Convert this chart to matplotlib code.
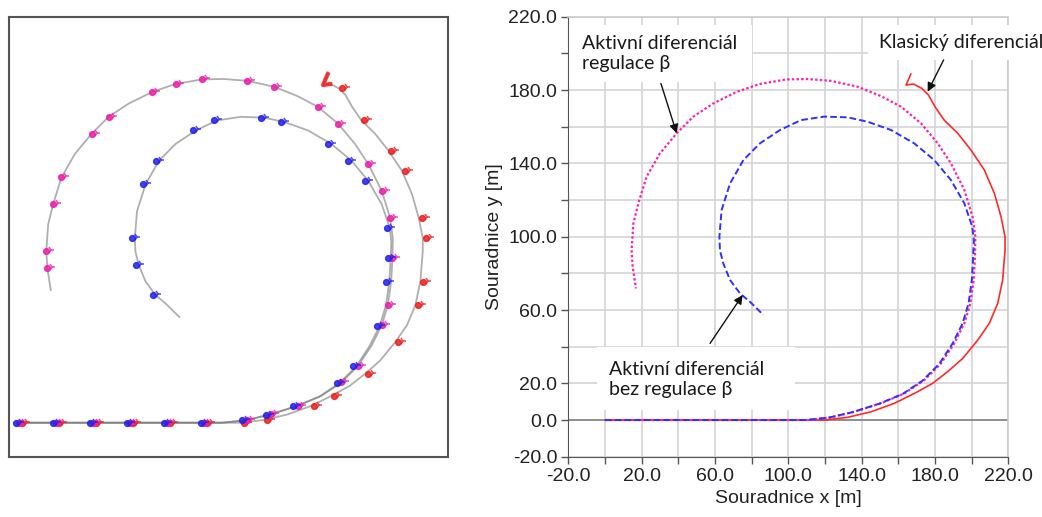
import matplotlib.pyplot as plt
from matplotlib.patches import Rectangle
from matplotlib.transforms import offset_copy

# trajectories [m]
# active differential with beta control (magenta, dotted)
mag_x = [0, 20, 40, 60, 80, 100, 110.5, 123.3, 136, 150.5, 163.3, 174.2, 183.3, 190.5, 196, 199.3,
         201.1, 201.8, 202, 200.5, 196, 188.7, 181.5, 172.4, 161.5, 150.5, 137.8, 123.3, 110.5, 99,
         84.5, 71.8, 59.1, 48.2, 39.1, 30, 22.7, 18.2, 15.5, 14.5, 15.1, 16.9]
mag_y = [0, 0, 0, 0, 0, 0, 0, 1.5, 4.5, 9.1, 14.5, 21.8, 30.9, 41.8, 52.7, 63.6,
         76.4, 89.1, 100, 110.9, 125.5, 140, 150.9, 161.8, 170.9, 176.7, 181.8, 185, 186, 185.8,
         183.3, 179, 172.7, 165.5, 156.4, 145.5, 132.7, 118.2, 107.3, 92.7, 83.6, 71.8]

# active differential without beta control (blue, dashed)
blue_x = [0, 20, 40, 60, 80, 100, 109, 122, 135, 149.5, 162.3, 173.2, 182.3, 189.5, 195, 198.3,
          200.1, 200.8, 201.2, 200.3, 196, 188.7, 179.6, 168.7, 156, 143.3, 132.4, 119.6, 106.9,
          95.5, 84.5, 75.5, 68.2, 63.6, 62.4, 62.7, 64.5, 68.2, 73.6, 79.1, 86.4]
blue_y = [0, 0, 0, 0, 0, 0, 0, 1.3, 4.3, 8.9, 14.2, 21.5, 30.6, 41.6, 52.6, 63.6,
          76.4, 89.1, 98, 105.5, 118.2, 130.9, 141.8, 150.9, 158.2, 162.7, 165.1, 165.5, 163.6,
          158.2, 150.9, 141.8, 129, 114.5, 100, 92.7, 85.5, 76.4, 69.1, 64.5, 57.3]

# classic differential (red, solid)
red_x = [0, 20, 40, 60, 80, 100, 119.6, 132.4, 145.1, 157.8, 168.7, 178.7, 186.9, 195.1, 203.3,
         209.6, 214.2, 216.9, 218.2, 218.2, 216, 212.4, 206.9, 199.6, 192.4, 185, 180, 176.4,
         172.8, 168.2, 164.2, 166.8]
red_y = [0, 0, 0, 0, 0, 0, 0, 1.5, 4.5, 9.1, 14.5, 20, 26.4, 33.6, 43.6,
         52.7, 63.6, 76.4, 92.7, 100, 110.9, 123.6, 136.4, 147.3, 156.4, 163.6, 170.9, 177.3,
         180.9, 183.3, 182.7, 188.7]

ticks = list(range(-20, 221, 20))
x_labels = ['-20.0', '', '20.0', '', '60.0', '', '100.0', '', '140.0', '', '180.0', '', '220.0']
y_labels = ['-20.0', '0.0', '20.0', '', '60.0', '', '100.0', '', '140.0', '', '180.0', '', '220.0']

C_MAG = '#ff22b0'
C_BLUE = '#3030ff'
C_RED = '#ff2a2a'

plt.rcParams['font.family'] = ['Liberation Sans', 'DejaVu Sans']

fig = plt.figure(figsize=(10.42, 5.17), dpi=100)

# ---- left panel: simulation view with vehicle markers
axL = fig.add_axes([0.0086, 0.1155, 0.4216, 0.8522])
paths = [(red_x, red_y, '#ee1c1c', 3), (mag_x, mag_y, '#ec1ea8', 0), (blue_x, blue_y, '#2020ee', -3)]
for xs, ys, c, dx in paths:
    axL.plot(xs, ys, color='#7a7a7a', lw=1.3, alpha=0.6, zorder=2)
for xs, ys, c, dx in paths:
    tr = offset_copy(axL.transData, fig=fig, x=dx, y=0, units='dots')
    axL.plot(xs, ys, ls='none', marker='o', ms=4.2, color=c, alpha=0.85,
             markevery=0.058, transform=tr, zorder=3)
    tr2 = offset_copy(axL.transData, fig=fig, x=dx + 5, y=1, units='dots')
    axL.plot(xs, ys, ls='none', marker='4', ms=5, mew=1.1, color=c, alpha=0.8,
             markevery=0.058, transform=tr2, zorder=3)
axL.plot(red_x[-3:], red_y[-3:], color='#ee1c1c', lw=3, alpha=0.85, zorder=3)
axL.set_xlim(-5.7, 232)
axL.set_ylim(-18.7, 219.7)
axL.set_xticks([])
axL.set_yticks([])
for s in axL.spines.values():
    s.set_color('#555555')
    s.set_linewidth(1.5)

# ---- right panel: trajectory chart
ax = fig.add_axes([0.5454, 0.1166, 0.4223, 0.8511])
ax.plot(red_x, red_y, color=C_RED, lw=1.2, zorder=3)
ax.plot(mag_x, mag_y, color=C_MAG, lw=1.6, ls=(0, (1.1, 1.0)), zorder=3.1)
ax.plot(blue_x, blue_y, color=C_BLUE, lw=1.4, ls=(0, (3.4, 1.6)), zorder=3.2)

ax.set_xlim(-20, 220)
ax.set_ylim(-20, 220)
ax.set_xticks(ticks)
ax.set_xticklabels(x_labels)
ax.set_yticks(ticks)
ax.set_yticklabels(y_labels)
ax.tick_params(direction='out', length=5, width=1, color='#555555',
               labelsize=14, labelcolor='#222222', pad=3)
ax.grid(True, color='#d4d4d4', lw=1.2, zorder=0)
ax.set_axisbelow(True)
ax.axhline(0, color='#8a8a8a', lw=1.3, zorder=1)
for side in ['left', 'bottom']:
    ax.spines[side].set_color('#555555')
for side in ['top', 'right']:
    ax.spines[side].set_color('#cccccc')
    ax.spines[side].set_linewidth(1.2)

ax.set_xlabel('Souradnice x [m]', fontsize=14, color='#222222', labelpad=4)
ax.set_ylabel('Souradnice y [m]', fontsize=14, color='#222222', labelpad=4)

# annotation boxes
note_font = dict(family=['Lato', 'DejaVu Sans'], fontsize=14, color='#1a1a1a', zorder=6)
ax.add_patch(Rectangle((-19.4, 184.4), 99.6, 31.1, fc='white', ec='none', zorder=4))
ax.add_patch(Rectangle((143.5, 196.4), 94.4, 19.1, fc='white', ec='none', zorder=4,
                       clip_on=False))
ax.add_patch(Rectangle((-4.5, 5.4), 108.1, 34.6, fc='white', ec='none', zorder=4))

ax.text(-12.7, 200, 'Aktivní diferenciál\nregulace β', ha='left', va='center',
        linespacing=1.2, **note_font)
ax.text(149.5, 205.7, 'Klasický diferenciál', ha='left', va='center', clip_on=False,
        **note_font)
ax.text(2.2, 22.2, 'Aktivní diferenciál\nbez regulace β', ha='left', va='center',
        linespacing=1.2, **note_font)

arrow = dict(arrowstyle='-|>', color='#111111', lw=1, mutation_scale=13, shrinkA=0, shrinkB=0)
ax.annotate('', xy=(39.1, 156.4), xytext=(30.5, 183.6), arrowprops=arrow, zorder=6)
ax.annotate('', xy=(176, 179.1), xytext=(184.7, 196.4), arrowprops=arrow, zorder=6)
ax.annotate('', xy=(75.1, 68.2), xytext=(57.3, 41.8), arrowprops=arrow, zorder=6)

fig.savefig('out.png', dpi=100)
